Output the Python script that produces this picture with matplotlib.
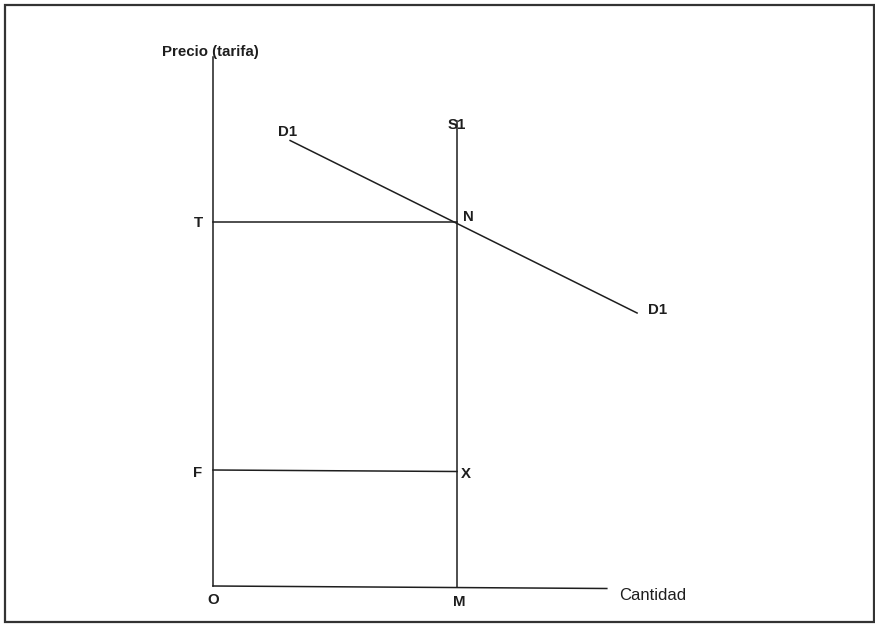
import matplotlib
matplotlib.use("Agg")
import matplotlib.pyplot as plt
from matplotlib.patches import Rectangle

plt.rcParams['font.family'] = ['Liberation Sans', 'DejaVu Sans']

# Diagram values (quantity, price)
q_m = 5.0            # quantity M where S1 stands
q_axis_end = 8.07    # length of quantity axis
p_axis_top = 10.6    # height of price axis
p_s1_top = 9.32      # top of supply line S1
p_t = 7.3            # price T (tariff-inclusive)
p_f = 2.34           # price F
d1_q = [1.58, 8.69]  # demand D1 endpoints (quantity)
d1_p = [8.93, 5.48]  # demand D1 endpoints (price)

fig = plt.figure(figsize=(8.75, 6.24), dpi=100)
ax = fig.add_axes([0, 0, 1, 1])
ax.set_xlim(-213 / 48.8, (875 - 213) / 48.8)
ax.set_ylim(-(624 - 587) / 50, 587 / 50)
ax.axis('off')

lc = '#1e1e1e'
lw = 1.1
# axes
ax.plot([0, 0], [0.02, p_axis_top], color=lc, lw=lw)
ax.plot([0, q_axis_end], [0.02, -0.03], color=lc, lw=lw)
# S1
ax.plot([q_m, q_m], [0, p_s1_top], color=lc, lw=lw)
# T and F lines
ax.plot([0, q_m], [p_t, p_t], color=lc, lw=lw)
ax.plot([0, q_m], [p_f, p_f - 0.03], color=lc, lw=lw)
# D1
ax.plot(d1_q, d1_p, color=lc, lw=lw)

fs = 10.8
kw = dict(fontsize=fs, fontweight='bold', color='#1e1e1e', ha='center', va='center')
ax.text(-0.06, p_axis_top + 0.11, 'Precio (tarifa)', **kw)
ax.text(d1_q[0] - 0.05, d1_p[0] + 0.18, 'D1', **kw)
ax.text(q_m, p_s1_top - 0.08, 'S1', **kw)
ax.text(-0.29, p_t - 0.02, 'T', **kw)
ax.text(q_m + 0.23, p_t + 0.1, 'N', **kw)
ax.text(d1_q[1] + 0.41, d1_p[1] + 0.05, 'D1', **kw)
ax.text(-0.31, p_f - 0.06, 'F', **kw)
ax.text(q_m + 0.18, p_f - 0.08, 'X', **kw)
ax.text(0.0, -0.26, 'O', **kw)
ax.text(q_m + 0.04, -0.29, 'M', **kw)
ax.text(q_axis_end + 0.25, -0.17, 'Cantidad', ha='left', va='center',
        fontsize=12, color='#1e1e1e')

fig.patches.append(Rectangle((5 / 875, 2 / 624), 869 / 875, 617 / 624,
                             transform=fig.transFigure, fill=False,
                             edgecolor='#333333', lw=1.6))

fig.savefig('out.png', dpi=100)
